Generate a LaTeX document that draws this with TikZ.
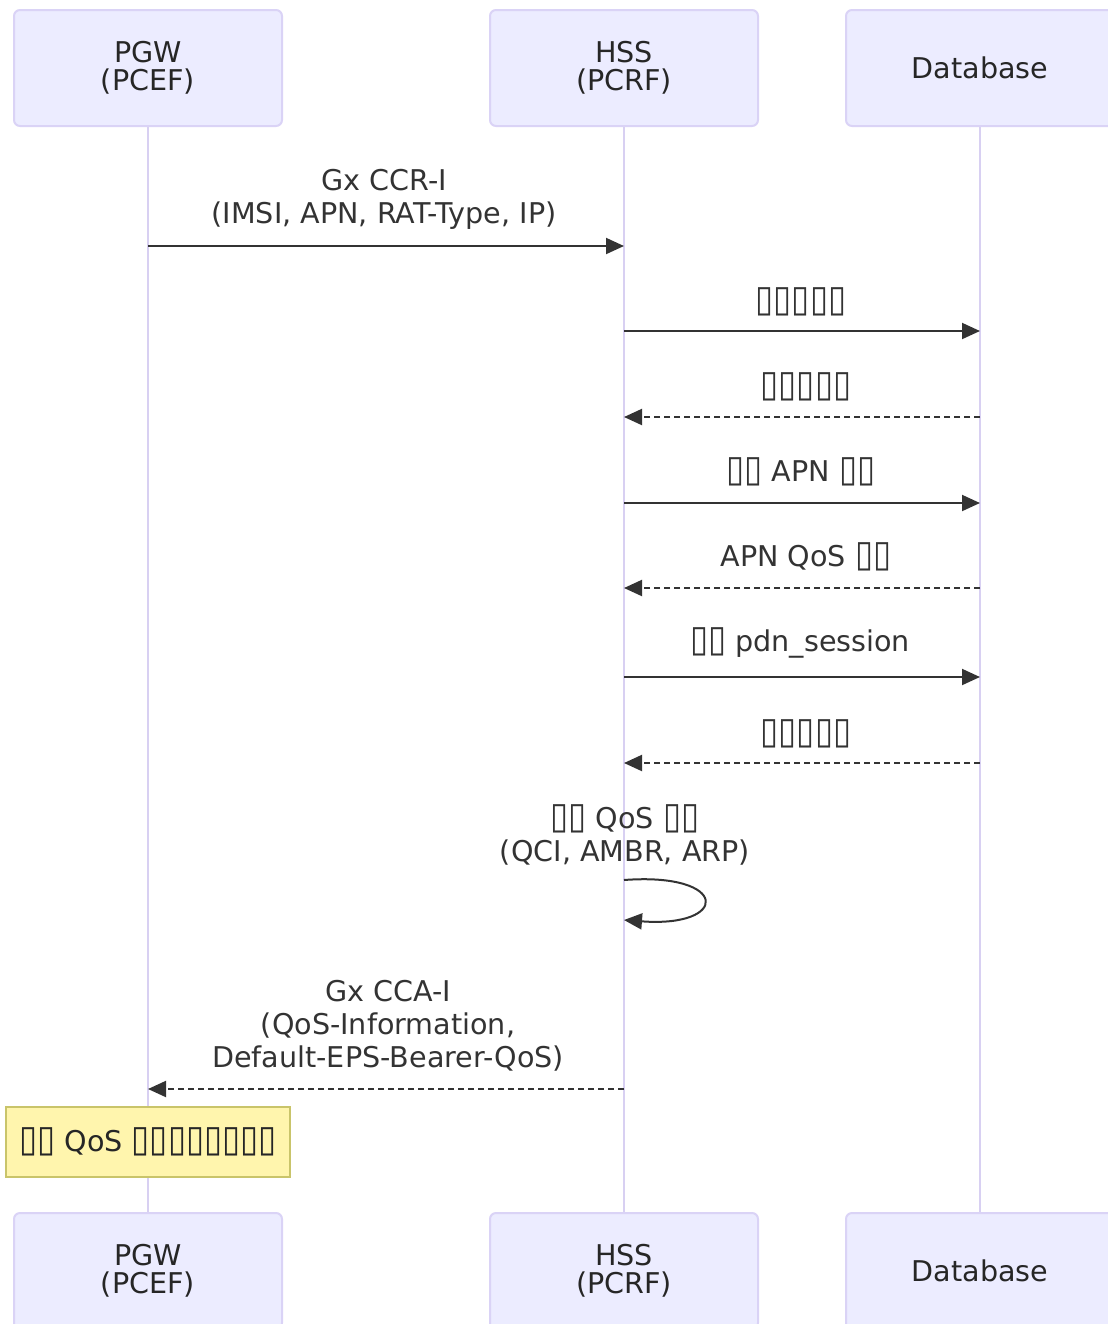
\documentclass[tikz,border=0pt]{standalone}
\usepackage{fontspec}
\setmainfont{DejaVu Sans}
\usetikzlibrary{arrows.meta}
\definecolor{actorfill}{HTML}{ECECFF}
\definecolor{actorline}{HTML}{DAD3F6}
\definecolor{lifeline}{HTML}{D8D0F2}
\definecolor{msgtext}{HTML}{333333}
\definecolor{notefill}{HTML}{FFF5AD}
\definecolor{noteline}{HTML}{C9C46A}
\newcommand\tofu{\scalebox{1.15}[1.3]{▯}}

\begin{document}
\begin{tikzpicture}[
            x=0.5pt, y=-0.5pt,
            actor/.style={rectangle, draw=actorline, fill=actorfill, line width=1pt, rounded corners=3pt, minimum width=134pt, minimum height=58pt, align=center, font=\fontsize{14.3}{14}\selectfont, text=black!85},
            life/.style={draw=lifeline, line width=1pt},
            msg/.style={align=center, font=\fontsize{14.3}{16.5}\selectfont, text=msgtext, anchor=base},
            call/.style={-{Triangle[length=9pt, width=8pt]}, line width=1pt, draw=black!80},
            reply/.style={call, dash pattern=on 3pt off 2pt},
            note/.style={rectangle, draw=noteline, fill=notefill, line width=0.7pt, minimum width=142pt, minimum height=35pt, font=\fontsize{14.3}{16.5}\selectfont, text=black!85}
        ]
            \clip (0,0) rectangle (1108,1324);

            % --- Actors ---
            \node[actor] (pgw) at (148,68) {PGW\\(PCEF)};
            \node[actor] (hss) at (624,68) {HSS\\(PCRF)};
            \node[actor] (db) at (980,68) {Database};
            \node[actor] (pgwend) at (148,1271) {PGW\\(PCEF)};
            \node[actor] (hssend) at (624,1271) {HSS\\(PCRF)};
            \node[actor] (dbend) at (980,1271) {Database};

            % --- Lifelines ---
            \draw[life] (pgw) -- (pgwend);
            \draw[life] (hss) -- (hssend);
            \draw[life] (db) -- (dbend);

            % --- Message anchors on the lifelines ---
            \foreach \y/\n in {246/1, 331/2, 417/3, 503/4, 588/5, 677/6, 763/7, 880/8, 920/9, 1089/10} {
                \coordinate (p\n) at (pgw.south |- 0,\y);
                \coordinate (h\n) at (hss.south |- 0,\y);
                \coordinate (d\n) at (db.south |- 0,\y);
            }

            % --- Messages ---
            \node[msg] (t1) at (384,223) {Gx CCR-I\\(IMSI, APN, RAT-Type, IP)};
            \draw[call] (p1) -- (h1);

            \node[msg] (t2) at (801,311) {\tofu\tofu\tofu\tofu\tofu};
            \draw[call] (h2) -- (d2);

            \node[msg] (t3) at (806,396) {\tofu\tofu\tofu\tofu\tofu};
            \draw[reply] (d3) -- (h3);

            \node[msg] (t4) at (801,481) {\tofu\tofu{} APN \tofu\tofu};
            \draw[call] (h4) -- (d4);

            \node[msg] (t5) at (806,566) {APN QoS \tofu\tofu};
            \draw[reply] (d5) -- (h5);

            \node[msg] (t6) at (800,651) {\tofu\tofu{} pdn\_session};
            \draw[call] (h6) -- (d6);

            \node[msg] (t7) at (806,743) {\tofu\tofu\tofu\tofu\tofu};
            \draw[reply] (d7) -- (h7);

            \node[msg] (t8) at (625,861) {\tofu\tofu{} QoS \tofu\tofu\\(QCI, AMBR, ARP)};
            \draw[call] (h8) .. controls (730,872) and (730,928) .. (h9);

            \node[msg] (t10) at (388,1067) {Gx CCA-I\\(QoS-Information,\\Default-EPS-Bearer-QoS)};
            \draw[reply] (h10) -- (p10);

            % --- Note ---
            \node[note] (qosnote) at (148,1142) {\tofu\tofu{} QoS \tofu\tofu\tofu\tofu\tofu\tofu\tofu\tofu};

        \end{tikzpicture}
\end{document}
